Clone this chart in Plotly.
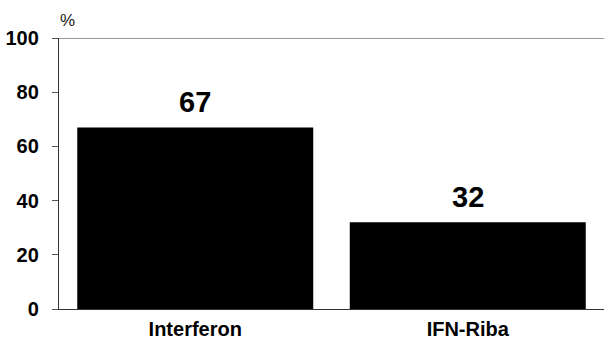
import plotly.graph_objects as go

categories = ["Interferon", "IFN-Riba"]
values = [67, 32]
y_ticks = [0, 20, 40, 60, 80, 100]

FONT = "Liberation Sans, Arial, sans-serif"

fig = go.Figure()
fig.add_trace(go.Bar(
    x=categories, y=values,
    marker=dict(color="black", line=dict(width=0)),
    width=0.866,
    hoverinfo="skip",
))
for c, v in zip(categories, values):
    fig.add_annotation(
        x=c, y=v, text=str(v), showarrow=False,
        yanchor="bottom", yshift=7,
        font=dict(family=FONT, size=29, color="black", weight="bold"),
    )

fig.add_shape(type="line", xref="paper", x0=0, x1=1, yref="y", y0=100, y1=100,
              line=dict(color="#333", width=1.2))
fig.add_annotation(xref="paper", yref="paper", x=0.0, y=1.0, yshift=6, xshift=-1,
                   xanchor="left", yanchor="bottom", text="%", showarrow=False,
                   font=dict(family=FONT, size=17, color="#222"))

fig.update_layout(
    width=604, height=340,
    margin=dict(l=59, r=0, t=38, b=31, autoexpand=False),
    paper_bgcolor="white", plot_bgcolor="white",
    showlegend=False,
    xaxis=dict(
        showline=True, linecolor="#333", linewidth=1.2,
        showgrid=False, ticks="", automargin=False,
        ticklabelstandoff=2,
        tickfont=dict(family=FONT, size=20, color="black", weight="bold"),
        fixedrange=True,
    ),
    yaxis=dict(
        range=[0, 100], tickvals=y_ticks, automargin=False,
        showline=True, linecolor="#333", linewidth=1.2,
        showgrid=False, zeroline=False,
        ticks="outside", ticklen=6, tickcolor="#555",
        ticklabelstandoff=9,
        tickfont=dict(family=FONT, size=20, color="black", weight="bold"),
        fixedrange=True,
    ),
)

fig.write_html("out.html",
               config={"displayModeBar": False, "staticPlot": True},
               post_script="document.body.style.margin='0';document.body.style.overflow='hidden';")
